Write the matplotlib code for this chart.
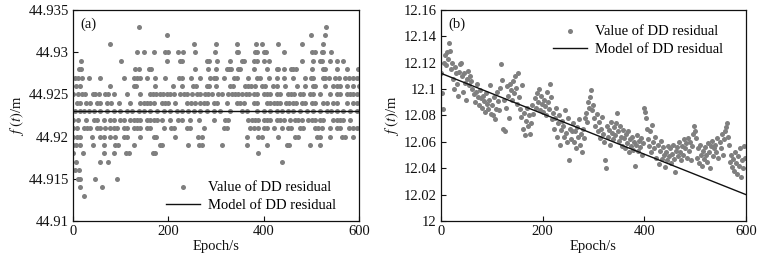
#!/usr/bin/env python3
"""
DD residual f(t) over a 600 s arc: (a) flat residual with constant model,
(b) drifting residual with linear model. Writes out.png.
"""
import matplotlib

matplotlib.use("Agg")
import matplotlib.pyplot as plt
import numpy as np
from matplotlib.ticker import FuncFormatter

GREY = "#7f7f7f"
INK = "#111111"

# (a) residual quantised to 1 mm: level (mm above 44.9 m) -> epochs [s]
LEVELS_A_MM = [33, 32, 31, 30, 29, 28, 27, 26, 25, 24, 23, 22, 21, 20, 19, 18,
               17, 16, 15, 14, 13]
EPOCHS_A = [
    [138, 530],
    [197, 500, 529],
    [77, 253, 299, 345, 384, 397, 430, 481, 524],
    [134, 148, 170, 193, 200, 221, 230, 256, 298, 343, 346, 382, 387, 401, 404,
     442, 501, 508, 522, 525, 541],
    [17, 101, 197, 225, 228, 281, 286, 303, 330, 354, 359, 380, 385, 400, 412,
     481, 504, 518, 523, 539, 553, 567],
    [13, 17, 130, 138, 159, 163, 256, 284, 300, 323, 328, 331, 346, 351, 380,
     407, 428, 431, 442, 457, 462, 467, 501, 525, 529, 553, 574, 597],
    [5, 10, 19, 33, 57, 108, 127, 134, 141, 155, 172, 193, 223, 228, 247, 267,
     288, 295, 300, 316, 338, 344, 368, 385, 392, 412, 428, 442, 462, 487, 499,
     504, 525, 529, 536, 550, 557, 571, 578, 588, 596],
    [6, 14, 78, 127, 133, 172, 209, 228, 251, 258, 281, 286, 300, 330, 335, 361,
     368, 373, 382, 396, 402, 420, 428, 445, 469, 487, 504, 508, 529, 546, 553,
     560, 574, 588, 599],
    [0, 10, 19, 26, 42, 47, 54, 68, 73, 85, 113, 141, 161, 168, 175, 183, 189,
     197, 204, 212, 225, 232, 239, 249, 260, 267, 277, 284, 291, 305, 312, 326,
     333, 340, 347, 354, 362, 369, 379, 386, 400, 407, 414, 428, 435, 450, 457,
     464, 476, 483, 497, 504, 518, 539, 553, 560, 574, 581, 588, 595],
    [8, 15, 28, 35, 50, 57, 71, 80, 96, 119, 141, 148, 155, 162, 169, 186, 193,
     200, 214, 239, 247, 256, 267, 275, 282, 295, 303, 323, 344, 351, 358, 379,
     387, 407, 414, 421, 428, 434, 447, 454, 461, 468, 480, 487, 501, 508, 525,
     532, 546, 553, 574, 588, 595],
    [5, 15, 22, 33, 43, 57, 71, 85, 99, 113, 124, 138, 148, 162, 176, 190, 204,
     218, 228, 242, 253, 267, 281, 295, 309, 330, 354, 365, 386, 400, 414, 428,
     438, 452, 462, 476, 490, 504, 518, 532, 542, 553, 567, 581, 595],
    [1, 10, 28, 43, 50, 66, 78, 85, 99, 106, 120, 127, 134, 141, 155, 162, 169,
     176, 186, 204, 221, 228, 246, 265, 295, 319, 326, 368, 375, 382, 389, 400,
     407, 414, 428, 435, 442, 455, 466, 473, 480, 494, 501, 508, 518, 525, 546,
     553, 560, 567, 581],
    [0, 8, 22, 29, 36, 50, 57, 68, 78, 85, 92, 106, 113, 127, 134, 141, 155, 162,
     190, 205, 212, 239, 246, 275, 316, 323, 372, 379, 389, 400, 407, 421, 438,
     450, 457, 476, 483, 508, 515, 522, 539, 553, 560, 578, 588, 595],
    [1, 8, 15, 40, 57, 66, 78, 89, 106, 113, 141, 169, 175, 214, 263, 270, 365,
     389, 396, 431, 466, 473, 511, 518, 539, 564, 571, 588],
    [0, 7, 14, 42, 66, 89, 94, 127, 183, 186, 242, 265, 270, 312, 365, 407, 448,
     454, 497, 518],
    [0, 21, 64, 85, 112, 117, 168, 172, 389],
    [7, 56, 73, 438],
    [5, 12],
    [10, 15, 47, 92],
    [14, 61],
    [22],
]
MODEL_A = 44.923

# (b) residual sampled every 2 s and its linear model
EPOCH_B = np.arange(0, 600, 2)
F_B = [
    12.112, 12.097, 12.085, 12.120, 12.126, 12.118, 12.128, 12.123, 12.135, 12.129,
    12.115, 12.120, 12.108, 12.100, 12.117, 12.112, 12.104, 12.095, 12.113, 12.119,
    12.120, 12.110, 12.098, 12.112, 12.105, 12.092, 12.108, 12.114, 12.103, 12.110,
    12.106, 12.100, 12.096, 12.090, 12.098, 12.104, 12.094, 12.088, 12.099, 12.093,
    12.086, 12.095, 12.091, 12.083, 12.097, 12.089, 12.085, 12.092, 12.103, 12.081,
    12.088, 12.080, 12.094, 12.077, 12.085, 12.098, 12.091, 12.084, 12.101, 12.119,
    12.107, 12.070, 12.092, 12.068, 12.086, 12.102, 12.095, 12.078, 12.104, 12.099,
    12.092, 12.106, 12.097, 12.110, 12.101, 12.089, 12.112, 12.094, 12.085, 12.079,
    12.103, 12.070, 12.082, 12.065, 12.076, 12.086, 12.072, 12.080, 12.066, 12.074,
    12.088, 12.081, 12.093, 12.086, 12.097, 12.090, 12.100, 12.084, 12.095, 12.089,
    12.083, 12.092, 12.087, 12.080, 12.098, 12.090, 12.085, 12.104, 12.094, 12.077,
    12.082, 12.070, 12.078, 12.086, 12.064, 12.074, 12.080, 12.058, 12.069, 12.076,
    12.072, 12.064, 12.084, 12.067, 12.060, 12.078, 12.046, 12.070, 12.062, 12.068,
    12.074, 12.060, 12.068, 12.055, 12.071, 12.064, 12.077, 12.058, 12.066, 12.052,
    12.070, 12.063, 12.078, 12.082, 12.075, 12.090, 12.086, 12.094, 12.099, 12.084,
    12.088, 12.078, 12.072, 12.081, 12.068, 12.075, 12.063, 12.070, 12.079, 12.066,
    12.060, 12.046, 12.040, 12.072, 12.064, 12.069, 12.058, 12.075, 12.067, 12.062,
    12.071, 12.065, 12.074, 12.082, 12.068, 12.061, 12.072, 12.064, 12.057, 12.069,
    12.063, 12.055, 12.066, 12.059, 12.068, 12.052, 12.062, 12.057, 12.064, 12.054,
    12.060, 12.042, 12.058, 12.065, 12.053, 12.061, 12.056, 12.063, 12.050, 12.059,
    12.086, 12.083, 12.078, 12.070, 12.062, 12.057, 12.068, 12.052, 12.073, 12.060,
    12.055, 12.064, 12.048, 12.058, 12.043, 12.053, 12.061, 12.047, 12.056, 12.050,
    12.041, 12.052, 12.046, 12.057, 12.049, 12.055, 12.044, 12.051, 12.058, 12.047,
    12.037, 12.053, 12.056, 12.049, 12.060, 12.052, 12.046, 12.057, 12.050, 12.062,
    12.055, 12.059, 12.048, 12.063, 12.053, 12.060, 12.046, 12.057, 12.066, 12.072,
    12.068, 12.063, 12.048, 12.055, 12.044, 12.058, 12.050, 12.042, 12.053, 12.047,
    12.056, 12.050, 12.045, 12.059, 12.052, 12.040, 12.057, 12.061, 12.049, 12.055,
    12.058, 12.052, 12.063, 12.048, 12.060, 12.055, 12.066, 12.050, 12.062, 12.068,
    12.071, 12.074, 12.064, 12.058, 12.045, 12.050, 12.041, 12.047, 12.038, 12.052,
    12.044, 12.036, 12.049, 12.042, 12.055, 12.033, 12.046, 12.040, 12.057, 12.048,
]
MODEL_B_EPOCH = [0, 600]
MODEL_B = [12.112, 12.020]

plt.rcParams["font.family"] = ["Liberation Serif", "DejaVu Serif"]
plt.rcParams["mathtext.fontset"] = "stix"
FS = 10.5


def trim(v, _):
    return f"{v:.3f}".rstrip("0").rstrip(".")


def style(ax, yticks):
    ax.set_xlim(0, 600)
    ax.set_xticks([0, 200, 400, 600])
    ax.set_yticks(yticks)
    ax.set_ylim(yticks[0], yticks[-1])
    ax.yaxis.set_major_formatter(FuncFormatter(trim))
    ax.tick_params(direction="in", length=3.5, width=0.8, labelsize=FS,
                   colors=INK, top=False, right=False, pad=3)
    for s in ax.spines.values():
        s.set_linewidth(0.9)
        s.set_color(INK)
    ax.set_xlabel("Epoch/s", fontsize=FS, color=INK, labelpad=1)
    ax.set_ylabel(r"$f\ (t)$/m", fontsize=FS, color=INK, labelpad=2)


def legend(ax, loc, anchor):
    ax.legend(loc=loc, bbox_to_anchor=anchor, frameon=False, fontsize=FS,
              handlelength=2.3, handletextpad=0.55, borderaxespad=0.0,
              labelspacing=0.35)


def main():
    fig = plt.figure(figsize=(7.59, 2.61), dpi=100)
    ax_a = fig.add_axes([0.0962, 0.1533, 0.3768, 0.8084])
    ax_b = fig.add_axes([0.5810, 0.1533, 0.4018, 0.8084])

    xs, ys = [], []
    for lvl, eps in zip(LEVELS_A_MM, EPOCHS_A):
        xs += eps
        ys += [44.9 + lvl / 1000.0] * len(eps)
    ax_a.scatter(xs, ys, s=13, color=GREY, lw=0, label="Value of DD residual",
                 zorder=2)
    ax_a.plot([0, 600], [MODEL_A, MODEL_A], color=INK, lw=1.0,
              label="Model of DD residual", zorder=3)
    style(ax_a, [44.91, 44.915, 44.92, 44.925, 44.93, 44.935])
    ax_a.text(0.025, 0.965, "(a)", transform=ax_a.transAxes, fontsize=FS,
              va="top", ha="left", color=INK)
    legend(ax_a, "lower right", (0.94, 0.014))

    ax_b.scatter(EPOCH_B, F_B, s=13, color=GREY, lw=0,
                 label="Value of DD residual", zorder=2)
    ax_b.plot(MODEL_B_EPOCH, MODEL_B, color=INK, lw=1.0,
              label="Model of DD residual", zorder=3)
    style(ax_b, [12.0, 12.02, 12.04, 12.06, 12.08, 12.1, 12.12, 12.14, 12.16])
    ax_b.text(0.025, 0.965, "(b)", transform=ax_b.transAxes, fontsize=FS,
              va="top", ha="left", color=INK)
    legend(ax_b, "upper right", (0.944, 0.957))

    fig.savefig("out.png", dpi=100, facecolor="white")
    plt.close(fig)


if __name__ == "__main__":
    main()
